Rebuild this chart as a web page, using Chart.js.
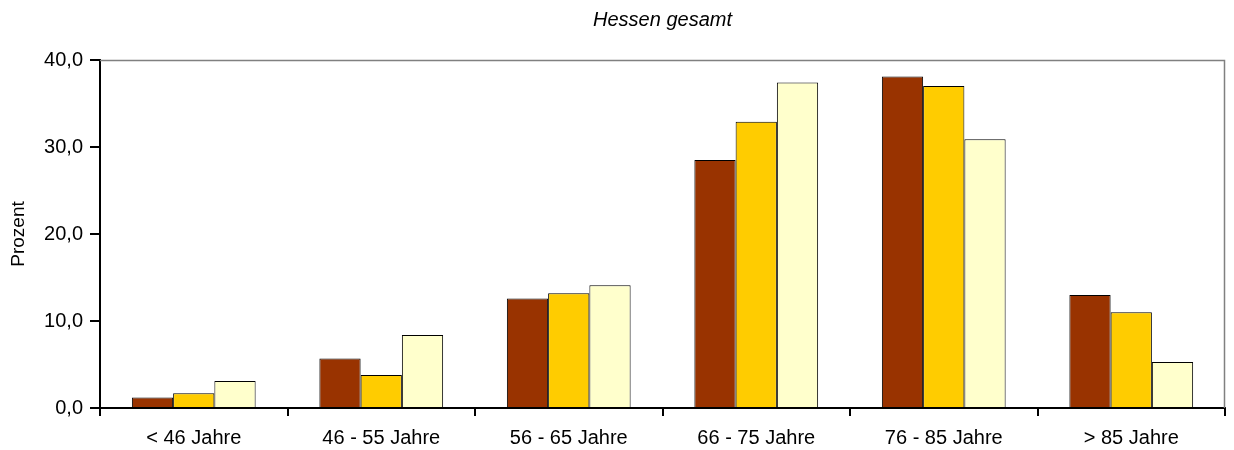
<!DOCTYPE html>
<html>
<head>
<meta charset="utf-8">
<script src="https://cdn.jsdelivr.net/npm/chart.js@4"></script>
<style>
  html, body { margin: 0; padding: 0; background: #fff; }
  #wrap { width: 1234px; height: 450px; }
</style>
</head>
<body>
<div id="wrap"><canvas id="chart" width="1234" height="450"></canvas></div>
<script>
// Altersgruppen
const categories = ['< 46 Jahre', '46 - 55 Jahre', '56 - 65 Jahre', '66 - 75 Jahre', '76 - 85 Jahre', '> 85 Jahre'];

// Prozentwerte je Serie
const series1 = [1.2, 5.7, 12.6, 28.5, 38.1, 13.0];
const series2 = [1.7, 3.8, 13.2, 32.9, 37.0, 11.0];
const series3 = [3.1, 8.4, 14.1, 37.4, 30.9, 5.3];

const seriesNames = ['Serie 1', 'Serie 2', 'Serie 3'];
const seriesColors = ['#993300', '#FFCC00', '#FFFFCC'];

const FONT = "'Liberation Sans', Arial, sans-serif";

// gray frame on top and right of plot area
const frame = {
    id: 'frame',
    beforeDatasetsDraw(chart) {
        const a = chart.chartArea;
        const c = chart.ctx;
        c.save();
        c.strokeStyle = '#808080';
        c.lineWidth = 1.5;
        c.beginPath();
        c.moveTo(a.left, a.top + 0.5);
        c.lineTo(a.right - 0.5, a.top + 0.5);
        c.lineTo(a.right - 0.5, a.bottom);
        c.stroke();
        c.restore();
    }
};

const ctx = document.getElementById('chart').getContext('2d');
new Chart(ctx, {
    type: 'bar',
    data: {
        labels: categories,
        datasets: [series1, series2, series3].map((d, i) => ({
            label: seriesNames[i],
            data: d,
            backgroundColor: seriesColors[i],
            borderColor: '#000',
            borderWidth: 1,
            barPercentage: 1,
            categoryPercentage: 0.66
        }))
    },
    options: {
        responsive: false,
        animation: false,
        layout: { padding: { left: 0, right: 9, top: 0, bottom: 0 } },
        plugins: {
            legend: { display: false },
            tooltip: { enabled: false },
            title: {
                display: true,
                fullSize: false, // center over the plot area
                text: 'Hessen gesamt',
                color: '#000',
                font: { family: FONT, size: 20, style: 'italic', weight: 'normal', lineHeight: 1.2 },
                padding: { top: 8, bottom: 28 }
            }
        },
        scales: {
            x: {
                grid: { drawOnChartArea: false, offset: true, color: '#000', lineWidth: 2, tickLength: 8 },
                border: { color: '#000', width: 2 },
                ticks: { color: '#000', padding: 10, maxRotation: 0, font: { family: FONT, size: 20 } },
                afterFit: s => { s.height = 42; }
            },
            y: {
                min: 0,
                max: 40,
                ticks: {
                    stepSize: 10,
                    color: '#000',
                    padding: 7,
                    font: { family: FONT, size: 20 },
                    callback: v => v.toFixed(1).replace('.', ',')
                },
                grid: { drawOnChartArea: false, color: '#000', lineWidth: 2, tickLength: 10 },
                border: { color: '#000', width: 2 },
                title: {
                    display: true,
                    text: 'Prozent',
                    color: '#000',
                    font: { family: FONT, size: 19 },
                    padding: { top: 7, bottom: 0 }
                },
                afterFit: s => { s.width = 100; }
            }
        }
    },
    plugins: [frame]
});
</script>
</body>
</html>
